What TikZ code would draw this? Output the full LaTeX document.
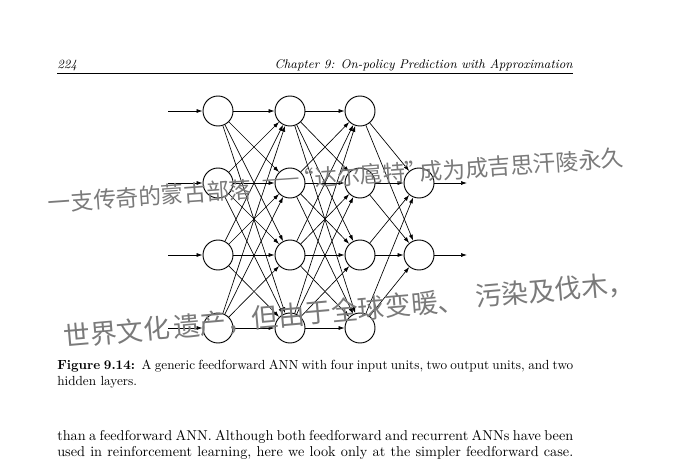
\documentclass[tikz,border=0pt]{standalone}
\usepackage{fontspec}
\newfontfamily\hand{Noto Sans CJK SC}
\usetikzlibrary{arrows.meta}
\begin{document}
\begin{tikzpicture}[x=0.75pt,y=-0.75pt,
  unit/.style={circle,draw,line width=0.7pt,minimum size=22.5pt,inner sep=0pt},
  link/.style={line width=0.5pt,-{Latex[length=4.5pt,width=3pt]}},
  handwriting/.style={text=black!52,inner sep=0pt,anchor=center},
  hwsmall/.style={handwriting,font=\hand\fontsize{17}{17}\selectfont,rotate=4},
  hwlarge/.style={handwriting,font=\hand\fontsize{20}{20}\selectfont,rotate=5},
  pagetext/.style={inner sep=0pt,anchor=base west,font=\fontsize{10.7}{13}\selectfont},
  captext/.style={inner sep=0pt,anchor=base west,font=\fontsize{9.9}{12}\selectfont},
  headtext/.style={inner sep=0pt,font=\fontsize{9.45}{11}\selectfont\itshape}]
\useasboundingbox (0,0) rectangle (680,467);

% running head and rule
\node[headtext,anchor=base west] (pageno) at (57,68) {224};
\node[headtext,anchor=base east] (runhead) at (573,68) {Chapter 9: On-policy Prediction with Approximation};
\coordinate (ruleL) at (57,73);
\coordinate (ruleR) at (573,73);
\draw[line width=0.45pt] (ruleL) -- (ruleR);

% units: input, two hidden layers
\foreach \r/\y in {1/111,2/183,3/255,4/328} {
  \node[unit] (i\r) at (218,\y) {};
  \node[unit] (a\r) at (290,\y) {};
  \node[unit] (b\r) at (360,\y) {};
  \coordinate (in\r) at (168,\y);
  \draw[link] (in\r) -- (i\r);
}
% output units
\foreach \r/\y in {2/183,3/255} {
  \node[unit] (o\r) at (419,\y) {};
  \coordinate (out\r) at (467,\y);
  \draw[link] (o\r) -- (out\r);
}
% full connections between consecutive layers
\foreach \s in {1,...,4} \foreach \t in {1,...,4} {
  \draw[link] (i\s) -- (a\t);
  \draw[link] (a\s) -- (b\t);
}
\foreach \s in {1,...,4} \foreach \t in {2,3} \draw[link] (b\s) -- (o\t);

% caption
\node[captext] (cap1) at (57,369) {\hbox to 387pt{\textbf{Figure 9.14:}\enspace A generic feedforward ANN with four input units, two output units, and two}};
\node[captext] (cap2) at (57,385) {hidden layers.};

% body text
\node[pagetext] (body1) at (57,440) {\hbox to 387pt{than a feedforward ANN. Although both feedforward and recurrent ANNs have been}};
\node[pagetext] (body2) at (57,456) {\hbox to 387pt{used in reinforcement learning, here we look only at the simpler feedforward case.}};

% handwritten lines
\node[hwsmall] (hwA) at (150,196) {一支传奇的蒙古部落};
\node[hwsmall] (hwB) at (281,183) {——};
\node[hwsmall] (hwC) at (360,175) {“达尔扈特”};
\node[hwsmall] (hwD) at (522,165) {成为成吉思汗陵永久};

\node[hwlarge] (hwE) at (117,332) {世界文化};
\node[hwlarge] (hwF) at (213,324) {遗产，};
\node[hwlarge] (hwG) at (358,309) {但由于全球变暖、};
\node[hwlarge] (hwH) at (555,290) {污染及伐木，};
\end{tikzpicture}
\end{document}
